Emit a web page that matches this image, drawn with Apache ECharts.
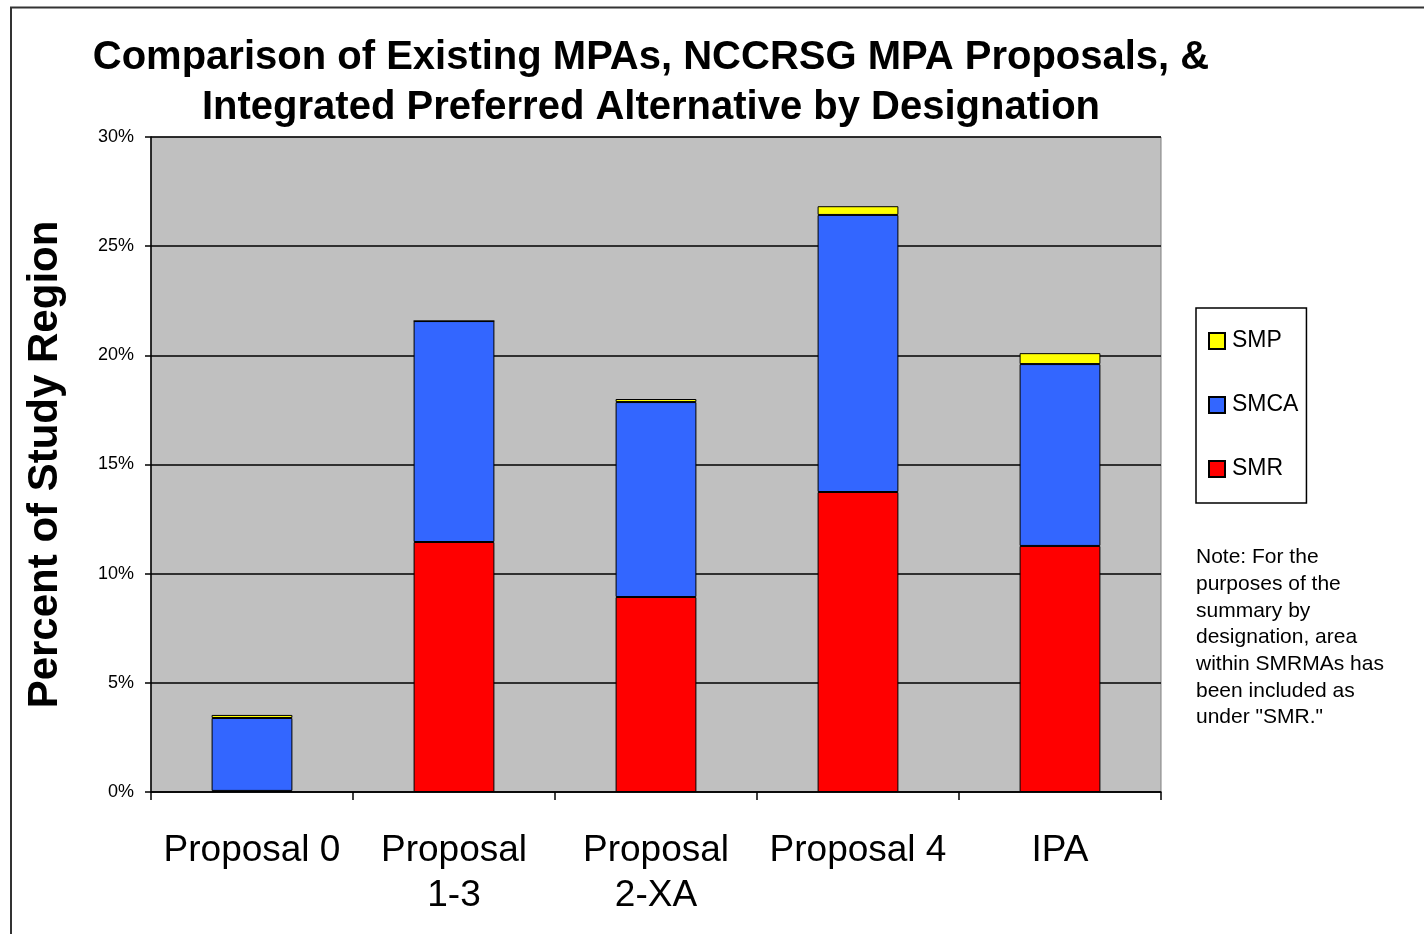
<!DOCTYPE html>
<html>
<head>
<meta charset="utf-8">
<title>MPA designation comparison</title>
<script src="https://cdn.jsdelivr.net/npm/echarts@6/dist/echarts.min.js"></script>
<style>
  html, body { margin: 0; padding: 0; background: #fff; }
  #chart { width: 1424px; height: 934px; }
</style>
</head>
<body>
<div id="chart"></div>
<script>
// values, percent of study region
const categories = ['Proposal 0', 'Proposal\n1-3', 'Proposal\n2-XA', 'Proposal 4', 'IPA'];
const smrValues  = [0.05, 11.45, 8.93, 13.74, 11.27];
const smcaValues = [3.34, 10.12, 8.93, 12.69, 8.33];
const smpValues  = [0.14, 0, 0.14, 0.4, 0.5];
const yTicks = { min: 0, max: 30, interval: 5 };

const noteLines = [
  'Note: For the',
  'purposes of the',
  'summary by',
  'designation, area',
  'within SMRMAs has',
  'been included as',
  'under "SMR."'
];

const font = 'Arial, "Liberation Sans", Helvetica, sans-serif';
const chart = echarts.init(document.getElementById('chart'));

const barSeries = (name, data, color) => ({
  name,
  type: 'bar',
  stack: 'total',
  data,
  barWidth: '40%',
  itemStyle: { color, borderColor: '#000', borderWidth: 1 },
  emphasis: { disabled: true }
});

chart.setOption({
  animation: false,
  backgroundColor: '#fff',
  textStyle: { fontFamily: font },
  title: {
    text: 'Comparison of Existing MPAs, NCCRSG MPA Proposals, &\nIntegrated Preferred Alternative by Designation',
    left: 646,
    top: 28,
    textAlign: 'center',
    textStyle: { fontSize: 40, fontWeight: 'bold', color: '#000', lineHeight: 50, fontFamily: font }
  },
  legend: {
    data: ['SMP', 'SMCA', 'SMR'],
    orient: 'vertical',
    left: 1196,
    top: 308,
    padding: [21, 8, 22, 12],
    itemGap: 40,
    itemWidth: 16,
    itemHeight: 16,
    icon: 'rect',
    borderColor: '#000',
    borderWidth: 1.5,
    selectedMode: false,
    textStyle: { fontSize: 23, color: '#000', lineHeight: 24, fontFamily: font, padding: [0, 0, 0, 2] }
  },
  grid: {
    left: 151,
    right: 263,
    top: 137,
    bottom: 142,
    show: true,
    backgroundColor: '#c0c0c0',
    borderColor: '#808080',
    borderWidth: 1
  },
  xAxis: {
    type: 'category',
    data: categories,
    axisLine: { lineStyle: { color: '#000', width: 1.5 } },
    axisTick: { show: true, length: 8, lineStyle: { color: '#000', width: 1.5 } },
    axisLabel: { fontSize: 37, color: '#000', lineHeight: 45, margin: 36, fontFamily: font, interval: 0 }
  },
  yAxis: {
    type: 'value',
    min: yTicks.min,
    max: yTicks.max,
    interval: yTicks.interval,
    name: 'Percent of Study Region',
    nameLocation: 'middle',
    nameGap: 85,
    nameRotate: 90,
    nameTextStyle: { fontSize: 42, fontWeight: 'bold', color: '#000', fontFamily: font },
    axisLine: { show: true, lineStyle: { color: '#000', width: 1.5 } },
    axisTick: { show: true, length: 6, lineStyle: { color: '#000', width: 1.5 } },
    axisLabel: { fontSize: 18, color: '#000', margin: 17, formatter: '{value}%', fontFamily: font },
    splitLine: { lineStyle: { color: '#000', width: 1.5 } }
  },
  series: [
    barSeries('SMR', smrValues, '#ff0000'),
    barSeries('SMCA', smcaValues, '#3366ff'),
    barSeries('SMP', smpValues, '#ffff00')
  ],
  graphic: [
    {
      type: 'polyline',
      shape: { points: [[11, 934], [11, 7.5], [1424, 7.5]] },
      style: { stroke: '#333', lineWidth: 2, fill: null }
    },
    {
      type: 'text',
      left: 1196,
      top: 544,
      style: {
        text: noteLines.join('\n'),
        font: '21px ' + font,
        lineHeight: 26.7,
        fill: '#000'
      }
    }
  ]
});
</script>
</body>
</html>
